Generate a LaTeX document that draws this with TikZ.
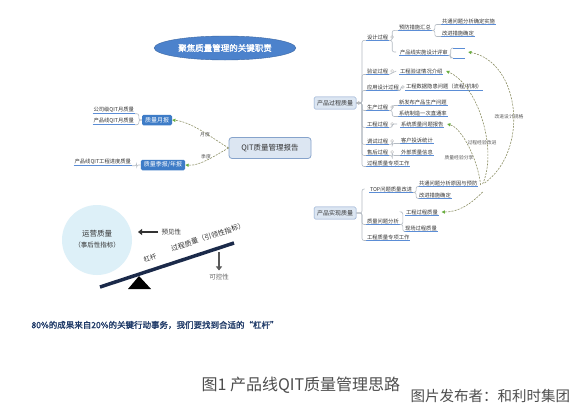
\documentclass[tikz,border=0pt]{standalone}
\usepackage{fontspec}
\setmainfont{Noto Sans CJK SC}
\newfontfamily\cjkbold{Noto Sans CJK SC}[FakeBold=1.6]
\usetikzlibrary{shapes.geometric,fit,backgrounds,arrows.meta,calc}
\definecolor{txtc}{HTML}{333333}
\definecolor{ulc}{HTML}{5B8DD6}
\definecolor{connc}{HTML}{B3BAC2}
\definecolor{dotd}{HTML}{9AA56E}
\definecolor{dotf}{HTML}{F3F6E6}
\definecolor{bluef}{HTML}{3E7CC7}
\definecolor{titlef}{HTML}{4C82CC}
\definecolor{lightf}{HTML}{DCE6F2}
\definecolor{lightd}{HTML}{86A3CB}
\definecolor{dashc}{HTML}{8C8F64}
\definecolor{arrg}{HTML}{6AAE3F}
\definecolor{navyc}{HTML}{1F3A68}
\definecolor{capc}{HTML}{4D4D4D}
\definecolor{leverc}{HTML}{1B2A4A}
\definecolor{circf}{HTML}{DDF0F8}
\newcommand{\fs}[1]{\fontsize{#1}{#1}\selectfont}
\newcommand{\lf}[4]{\node[leaf] (#1) at (#2,#3) {#4};\draw[uline] (#1.south west) -- (#1.south east);}
\newcommand{\lfe}[4]{\node[leaf,anchor=east] (#1) at (#2,#3) {#4};\draw[uline] (#1.south west) -- (#1.south east);}
\tikzset{
 leaf/.style={font=\fs{5.3}, text=txtc, inner sep=0.8pt, anchor=west},
 uline/.style={draw=ulc, line width=0.6pt},
 conn/.style={draw=connc, line width=0.6pt, rounded corners=2pt},
 dotbox/.style={draw=dotd, densely dotted, fill=dotf, rounded corners=2pt, inner sep=2.5pt, line width=0.6pt},
 bluebox/.style={fill=bluef, text=white, rounded corners=1.5pt, font=\fs{6}, inner xsep=3pt, inner ysep=1.5pt, minimum height=10.5pt},
 lbox/.style={fill=lightf, draw=lightd, rounded corners=1.5pt, font=\fs{6}, text=txtc, inner xsep=3pt, minimum height=12pt, line width=0.5pt},
 dsh/.style={draw=dashc, dash pattern=on 2pt off 1.2pt, line width=0.6pt, -{Triangle[length=3.2pt,width=3.2pt,color=arrg]}},
 mk/.style={circle, draw=gray!55, inner sep=0pt, minimum size=3pt, line width=0.4pt},
 tag/.style={font=\fs{4.8}, text=gray!70!black},
 lvtext/.style={font=\fs{6.5}, text=txtc},
}
\begin{document}
\begin{tikzpicture}[x=1pt,y=-1pt]
\useasboundingbox (0,0) rectangle (580,410);
\fill[white] (0,0) rectangle (580,410);

% title
\node[ellipse, fill=titlef, draw=titlef!80!black, line width=0.4pt, minimum width=124pt, minimum height=24pt, text=white, font=\cjkbold\fs{8.5}] (T) at (225,48) {聚焦质量管理的关键职责};

% central
\node[fill=lightf, draw=lightd, line width=0.8pt, rounded corners=3pt, minimum width=82pt, minimum height=21pt, font=\fs{7.5}, text=txtc] (Q) at (270,148) {QIT质量管理报告};

% left
\node[bluebox] (M) at (157,120) {质量月报};
\node[bluebox] (S) at (163,165) {质量季报/年报};
\lfe{l1}{135}{110}{公司级QIT月质量}
\lfe{l2}{135}{121}{产品线QIT月质量}
\lfe{l3}{132}{162}{产品线QIT工程进度质量}
\draw[conn] (M.west) -- ++(-3,0) |- (l1.south east);
\draw[conn] (M.west) -- ++(-3,0) |- (l2.south east);
\draw[conn] (S.west) -- ++(-4,0) |- (l3.south east);
\draw[dsh] (Q.west) .. controls (212,138) and (192,122) .. (M.east);
\draw[dsh] (Q.west) .. controls (214,156) and (200,166) .. (S.east);
\node[tag] (tm) at (205,135) {月度};
\node[tag] (ts) at (206,157) {季度};

% upper branch
\node[lbox] (P1) at (335,103) {产品过程质量};
\node[lbox] (P2) at (335,213) {产品实现质量};
\begin{scope}[on background layer]
\draw[conn] ($(Q.center)+(12,0)$) .. controls (285,110) and (295,103) .. (P1.west);
\draw[conn] ($(Q.center)+(12,0)$) .. controls (285,200) and (295,213) .. (P2.west);
\end{scope}
\coordinate (b1) at (362,103);
\lf{c1}{366}{37}{设计过程}
\lf{c2}{366}{71}{验证过程}
\lf{c3}{366}{87}{应用设计过程}
\lf{c4}{366}{107}{生产过程}
\lf{c5}{366}{124}{工程过程}
\lf{c6}{366}{141}{调试过程}
\lf{c7}{366}{152}{售后过程}
\lf{c8}{366}{163}{过程质量专项工作}
\foreach \c in {c1,c2,c3,c4,c5,c6,c7,c8}{\draw[conn] (P1.east) -- (b1) |- (\c.south west);}
\foreach \c in {c1,c2,c3,c4,c5,c6,c7}{\node[mk] at ($(\c.east)+(3,0)$) {};}
\node[mk] at ($(P1.east)+(2.5,0)$) {};

\lf{g11}{398}{27}{预防措施汇总}
\lf{g111}{441}{21}{共通问题分析确定实施}
\lf{g112}{441}{33}{改进措施确定}
\draw[conn] (g11.south east) -- ++(3,0) |- (g111.south west);
\draw[conn] (g11.south east) -- ++(3,0) |- (g112.south west);
\lf{g12}{399}{52}{产品线实施设计评审}
\node[leaf, minimum width=12pt] (g121) at (453,47) {};
\draw[uline] (g121.south west) -- (g121.south east);
\node[leaf, minimum width=12pt] (g122) at (453,57) {};
\draw[uline] (g122.south west) -- (g122.south east);
\draw[conn] (g12.south east) -- ++(2,0) |- (g121.south west);
\draw[conn] (g12.south east) -- ++(2,0) |- (g122.south west);
\lf{g21}{399}{71}{工程验证情况介绍}
\lf{g31}{405}{87}{工程数据隐患问题（流程/机制）}
\lf{g41}{398}{102}{新发布产品生产问题}
\lf{g42}{398}{113}{系统制造一次直通率}
\lf{g51}{400}{124}{系统质量问题报告}
\lf{g61}{400}{140}{客户投诉统计}
\lf{g71}{400}{152}{外部质量信息}

% lower branch
\coordinate (b2) at (362,213);
\lf{t0}{369}{189}{TOP问题质量改进}
\lf{t1}{418}{183}{共通问题分析原因与预防}
\lf{t2}{418}{195}{改进措施确定}
\draw[conn] (t0.south east) -- ++(3,0) |- (t1.south west);
\draw[conn] (t0.south east) -- ++(3,0) |- (t2.south west);
\lf{d2}{366}{221}{质量问题分析}
\lf{d3}{366}{237}{工程质量专项工作}
\lf{e1}{405}{212}{工程过程质量}
\lf{e2}{404}{228}{现场过程质量}
\draw[conn] (d2.south east) -- ++(3,0) |- (e2.south west);

\begin{scope}[on background layer]
\node[dotbox, fit=(g12)(g121)(g122)] (D1) {};
\node[dotbox, fit=(g21)] (D2) {};
\node[dotbox, fit=(g31)] (D3) {};
\node[dotbox, fit=(g51)] (D5) {};
\node[dotbox, fit=(t0)(t1)(t2), inner xsep=4pt] (TB) {};
\node[dotbox, fit=(e1)] (E1) {};
\end{scope}
\draw[conn] (c1.south east) -- ++(3,0) |- (g11.south west);
\draw[conn] (c1.south east) -- ++(3,0) |- (D1.west);
\draw[conn] (c2.south east) -- (D2.west);
\draw[conn] (c3.south east) -- ++(1,0) |- (D3.west);
\draw[conn] (c4.south east) -- ++(3,0) |- (g41.south west);
\draw[conn] (c4.south east) -- ++(3,0) |- (g42.south west);
\draw[conn] (c5.south east) -- ++(3,0) |- (D5.west);
\draw[conn] (c6.south east) -- ++(3,0) |- (g61.south west);
\draw[conn] (c7.south east) -- ++(3,0) |- (g71.south west);
\draw[conn] (P2.east) -- (b2) |- (TB.west);
\draw[conn] (P2.east) -- (b2) |- (d2.south west);
\draw[conn] (P2.east) -- (b2) |- (d3.south west);
\draw[conn] (d2.south east) -- ++(3,0) |- (E1.west);

% dashed feedback arcs
\draw[dsh] ($(TB.east)+(2,-6)$) .. controls (530,150) and (520,62) .. (D1.east);
\draw[dsh] ($(TB.east)+(0,-5)$) .. controls (498,150) and (478,85) .. (D2.east);
\draw[dsh] ($(TB.east)+(-2,-4)$) .. controls (478,160) and (462,128) .. (D5.east);
\draw[dsh] ($(TB.east)+(0,3)$) .. controls (470,205) and (458,212) .. (E1.east);
\node[tag] (a1) at (509,117) {改进设计规格};
\node[tag] (a2) at (482,143) {过程经验改进};
\node[tag] (a3) at (459,158) {质量经验分享};

% lever illustration
\node[circle, fill=circf, minimum size=70pt, inner sep=0pt] (C) at (97,240) {};
\node[lvtext, font=\fs{7.5}] (cq) at (97,234) {运营质量};
\node[lvtext] (cq2) at (97,245) {（事后性指标）};
\node[lvtext, anchor=west] (pv) at (158,232) {预见性};
\draw[line width=2.2pt, draw=txtc, -{Triangle[length=4pt,width=6pt]}] (pv.west) -- ++(-20,0);
\coordinate (LA) at (100,287);
\coordinate (LB) at (234,243);
\draw[line width=3.5pt, draw=leverc] (LA) -- (LB);
\fill[black] (128,289) -- (139,276) -- (151,289) -- cycle;
\node[lvtext, rotate=18] (gg) at (150,258) {杠杆};
\node[lvtext, font=\fs{7}, rotate=18] (gp) at (208,237) {过程质量（引领性指标）};
\node[lvtext, text=gray!80!black] (kk) at (219,277) {可控性};
\draw[line width=2.4pt, draw=gray!70!black, -{Triangle[length=4pt,width=6pt]}] ($(kk.north)+(0,-18)$) -- (kk.north);

% statement and caption
\node[anchor=west, font=\cjkbold\fs{8.5}, text=navyc] (st) at (28,325) {80\%的成果来自20\%的关键行动事务，我们要找到合适的“杠杆”};
\node[anchor=west, font=\fs{16}, text=capc] (cap) at (198,385) {图1 产品线QIT质量管理思路};
\node[anchor=west, font=\fs{14.5}, text=capc] (pub) at (407,396) {图片发布者：和利时集团};
\end{tikzpicture}
\end{document}
